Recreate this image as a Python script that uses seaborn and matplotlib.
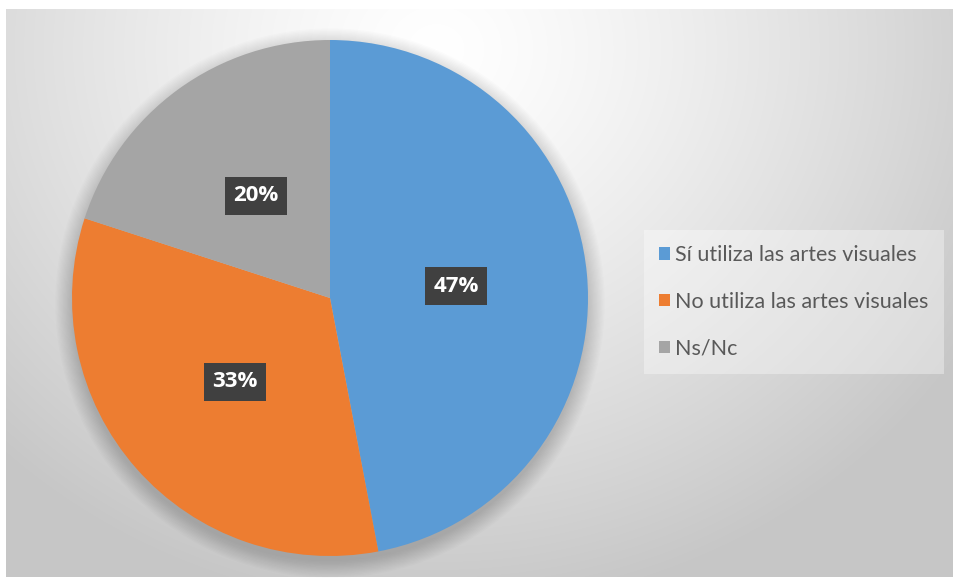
import numpy as np
import matplotlib
matplotlib.use("Agg")
import matplotlib.pyplot as plt
import seaborn as sns
from matplotlib.patches import Ellipse

categories = ["Sí utiliza las artes visuales", "No utiliza las artes visuales", "Ns/Nc"]
values = [47, 33, 20]
labels_pct = ["47%", "33%", "20%"]

sns.set_theme(style="white")
plt.rcParams['font.family'] = ['Lato', 'DejaVu Sans']

colors = ["#5B9BD5", "#ED7D31", "#A5A5A5"]

W, H = 957, 581
fig = plt.figure(figsize=(W / 100, H / 100), dpi=100)
fig.patch.set_facecolor("white")

# background gradient
bg = fig.add_axes([6 / W, 4 / H, (953 - 6) / W, (572 - 4) / H])
yy, xx = np.mgrid[0:568, 0:947]
cx, cy = 430, 40
d = np.sqrt(((xx - cx) / 620.0) ** 2 + ((yy - cy) / 560.0) ** 2)
d = np.clip(d, 0, 1)
v = 1.0 - 0.22 * d ** 1.3
img = np.dstack([v, v, v])
bg.imshow(img, aspect="auto", interpolation="bilinear")
bg.set_axis_off()

# pie axes
cxp, cyp, r = 330, 298, 258
ax = fig.add_axes([(cxp - r) / W, (H - cyp - r) / H, 2 * r / W, 2 * r / H])
ax.set_axis_off()
ax.patch.set_alpha(0)

wedges, texts = ax.pie(values, colors=colors, startangle=90, counterclock=False,
                       radius=1.0, wedgeprops=dict(linewidth=0))
ax.set_xlim(-1, 1)
ax.set_ylim(-1, 1)
ax.set_aspect("equal")

# soft shadow
for i in range(14):
    rr = 1.0 + 0.005 * i
    ax.add_patch(Ellipse((0, -0.02), 2 * rr, 2 * rr, color="black",
                         alpha=0.012, lw=0, zorder=0, clip_on=False))
for w in wedges:
    w.set_zorder(2)

for w, lab in zip(wedges, labels_pct):
    ang = np.deg2rad((w.theta1 + w.theta2) / 2)
    x, y = 0.49 * np.cos(ang), 0.49 * np.sin(ang)
    ax.text(x, y, lab, ha="center", va="center", color="white", fontsize=16,
            fontweight="bold", family=["Open Sans", "DejaVu Sans"], zorder=5,
            bbox=dict(boxstyle="square,pad=0.38", fc="#404040", ec="none"))

leg = fig.legend(wedges, categories, loc="center left",
                 bbox_to_anchor=(644 / W, (H - 302) / H),
                 frameon=True, fontsize=15.5, labelcolor="#595959",
                 handlelength=0.5, handleheight=0.5, handletextpad=0.25,
                 labelspacing=1.25, borderpad=0.7, borderaxespad=0,
                 fancybox=False)
leg.get_frame().set_facecolor("white")
leg.get_frame().set_alpha(0.35)
leg.get_frame().set_edgecolor("none")

fig.savefig("out.png", dpi=100)
